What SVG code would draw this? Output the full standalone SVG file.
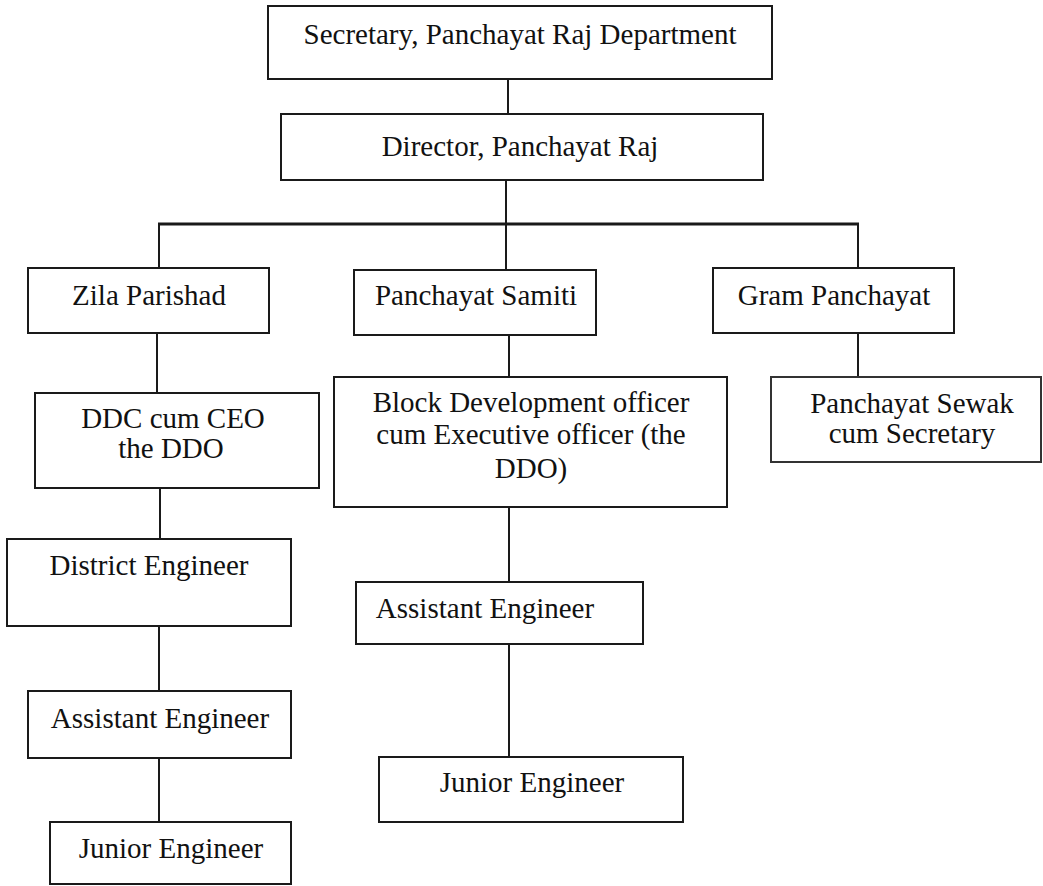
<svg xmlns="http://www.w3.org/2000/svg" width="1043" height="886" viewBox="0 0 1043 886">
<style>
.box{fill:#fff;stroke:#1a1a1a;stroke-width:2}
.lt{stroke:#333}
.t{font-family:'Liberation Serif','Tinos','Times New Roman','DejaVu Serif',serif;font-size:29px;fill:#111;text-anchor:middle}
.c{stroke:#1a1a1a;stroke-width:2;fill:none}
.bus{stroke-width:3}
</style>
<rect width="1043" height="886" fill="#fff"/>
<g id="connectors">
<line class="c" x1="508" y1="79" x2="508" y2="114"/>
<line class="c" x1="506" y1="180" x2="506" y2="224"/>
<line class="c bus" x1="158" y1="224" x2="859" y2="224"/>
<line class="c" x1="159" y1="224" x2="159" y2="268"/>
<line class="c" x1="506" y1="224" x2="506" y2="270"/>
<line class="c" x1="858" y1="224" x2="858" y2="268"/>
<line class="c" x1="157" y1="333" x2="157" y2="393"/>
<line class="c" x1="160" y1="488" x2="160" y2="553"/>
<line class="c" x1="509" y1="335" x2="509" y2="377"/>
<line class="c" x1="858" y1="333" x2="858" y2="377"/>
<line class="c" x1="159" y1="626" x2="159" y2="691"/>
<line class="c" x1="159" y1="758" x2="159" y2="822"/>
<line class="c" x1="509" y1="507" x2="509" y2="582"/>
<line class="c" x1="509" y1="644" x2="509" y2="757"/>
</g>
<g id="secretary"><rect class="box" x="268" y="6" width="504" height="73"/><text class="t" font-family="Liberation Serif, serif" x="520" y="44">Secretary, Panchayat Raj Department</text></g>
<g id="director"><rect class="box" x="281" y="114" width="482" height="66"/><text class="t" font-family="Liberation Serif, serif" x="520" y="156">Director, Panchayat Raj</text></g>
<g id="zila"><rect class="box" x="28" y="268" width="241" height="65"/><text class="t" font-family="Liberation Serif, serif" x="149" y="305">Zila Parishad</text></g>
<g id="samiti"><rect class="box" x="354" y="270" width="242" height="65"/><text class="t" font-family="Liberation Serif, serif" x="476" y="305">Panchayat Samiti</text></g>
<g id="gram"><rect class="box" x="713" y="268" width="241" height="65"/><text class="t" font-family="Liberation Serif, serif" x="834" y="305">Gram Panchayat</text></g>
<g id="ddc"><rect class="box" x="35" y="393" width="284" height="95"/><text class="t" font-family="Liberation Serif, serif" x="173" y="428">DDC cum CEO</text><text class="t" font-family="Liberation Serif, serif" x="171" y="458">the DDO</text></g>
<g id="bdo"><rect class="box" x="334" y="377" width="393" height="130"/><text class="t" font-family="Liberation Serif, serif" x="531" y="412">Block Development officer</text><text class="t" font-family="Liberation Serif, serif" x="531" y="444">cum Executive officer (the</text><text class="t" font-family="Liberation Serif, serif" x="531" y="478">DDO)</text></g>
<g id="sewak"><rect class="box lt" x="771" y="377" width="270" height="85"/><text class="t" font-family="Liberation Serif, serif" x="912" y="413">Panchayat Sewak</text><text class="t" font-family="Liberation Serif, serif" x="912" y="443">cum Secretary</text></g>
<g id="district-engineer"><rect class="box" x="7" y="539" width="284" height="87"/><text class="t" font-family="Liberation Serif, serif" x="149" y="575">District Engineer</text></g>
<g id="zp-assistant-engineer"><rect class="box" x="28" y="691" width="263" height="67"/><text class="t" font-family="Liberation Serif, serif" x="160" y="728">Assistant Engineer</text></g>
<g id="zp-junior-engineer"><rect class="box" x="50" y="822" width="241" height="62"/><text class="t" font-family="Liberation Serif, serif" x="171" y="858">Junior Engineer</text></g>
<g id="ps-assistant-engineer"><rect class="box" x="356" y="582" width="287" height="62"/><text class="t" font-family="Liberation Serif, serif" x="485" y="618">Assistant Engineer</text></g>
<g id="ps-junior-engineer"><rect class="box" x="379" y="757" width="304" height="65"/><text class="t" font-family="Liberation Serif, serif" x="532" y="792">Junior Engineer</text></g>
</svg>
